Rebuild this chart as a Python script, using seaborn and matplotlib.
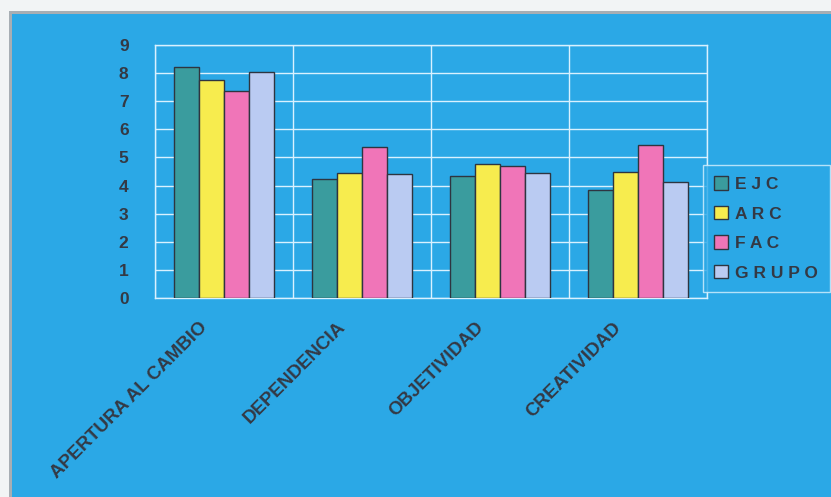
import pandas as pd
import seaborn as sns
import matplotlib.pyplot as plt
from matplotlib.patches import Rectangle
from matplotlib.transforms import ScaledTranslation

categorias = ['APERTURA AL CAMBIO', 'DEPENDENCIA', 'OBJETIVIDAD', 'CREATIVIDAD']
grupos = ['EJC', 'ARC', 'FAC', 'GRUPO']
ejc = [8.2, 4.25, 4.33, 3.85]
arc = [7.75, 4.45, 4.78, 4.5]
fac = [7.37, 5.38, 4.68, 5.45]
grupo = [8.03, 4.4, 4.45, 4.12]
colores = ['#3A9C9E', '#F7EC4E', '#F075B8', '#BACBF2']

azul = '#2BA8E6'
linea = '#D9F1FF'
texto = '#343944'

tabla = pd.DataFrame({
    'categoria': categorias * 4,
    'serie': [g for g in grupos for _ in categorias],
    'valor': ejc + arc + fac + grupo,
})

sns.set_style('white')
plt.rcParams['font.family'] = ['Liberation Sans', 'DejaVu Sans']

fig = plt.figure(figsize=(8.31, 4.97), dpi=100)
fig.patch.set_facecolor(azul)
fig.patch.set_linewidth(0)
# marco gris y borde claro arriba / izquierda
W, H = 831, 497
gris = '#A7AEB4'
claro = '#F2F4F5'
fig.add_artist(Rectangle((9 / W, 0), 3 / W, 1, transform=fig.transFigure,
                         facecolor=gris, edgecolor='none'))
fig.add_artist(Rectangle((9 / W, 1 - 14 / H), 1, 3 / H, transform=fig.transFigure,
                         facecolor=gris, edgecolor='none'))
fig.add_artist(Rectangle((0, 0), 9 / W, 1, transform=fig.transFigure,
                         facecolor=claro, edgecolor='none'))
fig.add_artist(Rectangle((0, 1 - 11 / H), 1, 11 / H, transform=fig.transFigure,
                         facecolor=claro, edgecolor='none'))

ax = fig.add_axes([155 / W, 1 - 298 / H, 552 / W, 253 / H])
ax.set_facecolor(azul)

sns.barplot(data=tabla, x='categoria', y='valor', hue='serie', order=categorias,
            hue_order=grupos, palette=colores, width=0.73, gap=0,
            edgecolor='#2E3540', linewidth=1.0, saturation=1, ax=ax, zorder=3)

ax.set_ylim(0, 9)
ax.set_xlim(-0.5, 3.5)
ax.set_yticks(range(0, 10))
ax.set_xticks([i + 0.5 for i in range(-1, 4)], minor=True)
ax.grid(True, axis='y', color=linea, linewidth=1, zorder=0)
ax.grid(True, axis='x', which='minor', color=linea, linewidth=1, zorder=0)
ax.grid(False, axis='x', which='major')
ax.set_axisbelow(True)
ax.tick_params(axis='y', length=6, color=linea, width=1, labelsize=12.5, labelcolor=texto, pad=13)
ax.tick_params(axis='x', which='minor', length=5, color=linea, width=1, direction='out')
ax.tick_params(axis='x', which='major', length=0, labelsize=13.5, labelcolor=texto, pad=15)
for lab in ax.get_yticklabels():
    lab.set_fontweight('bold')
desplazamiento = ScaledTranslation(-0.25, 0, fig.dpi_scale_trans)
for lab in ax.get_xticklabels():
    lab.set_fontweight('bold')
    lab.set_rotation(45)
    lab.set_ha('right')
    lab.set_rotation_mode('anchor')
    lab.set_transform(lab.get_transform() + desplazamiento)
for sp in ax.spines.values():
    sp.set_color(linea)
    sp.set_linewidth(1)
ax.set_xlabel('')
ax.set_ylabel('')

ax.legend_.remove()
handles = [Rectangle((0, 0), 1, 1, facecolor=c, edgecolor='#2E3540', linewidth=1) for c in colores]
etiquetas = [' '.join(g) for g in grupos]
leg = fig.legend(handles, etiquetas, loc='upper left',
                 bbox_to_anchor=(703 / W, 1 - 292 / H, 127 / W, 127 / H), mode='expand',
                 frameon=True, fancybox=False, facecolor=azul, edgecolor=linea,
                 prop={'weight': 'bold', 'size': 12.5}, labelcolor=texto,
                 handlelength=0.8, handleheight=0.8, handletextpad=0.4,
                 labelspacing=0.8, borderpad=0.65, borderaxespad=0)
leg.get_frame().set_linewidth(1)

fig.savefig('out.png', dpi=100, facecolor=fig.get_facecolor())
